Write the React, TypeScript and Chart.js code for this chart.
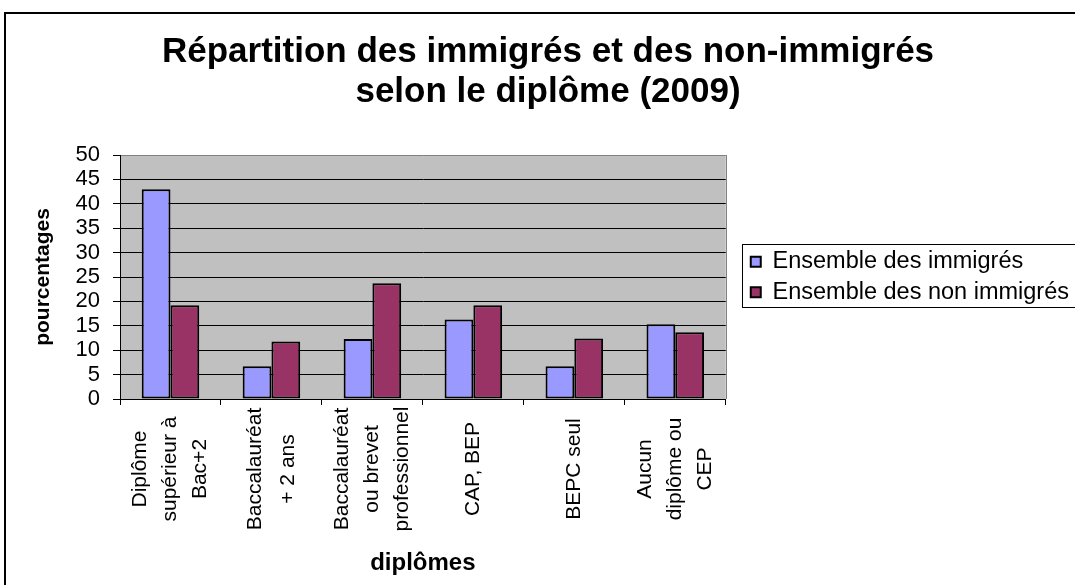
import React, { useEffect, useRef } from 'react';
import { Chart, registerables } from 'chart.js';

Chart.register(...registerables);

// Diploma categories (each entry is one label, split over several lines)
const categories: string[][] = [
  ['Diplôme', 'supérieur à', 'Bac+2'],
  ['Baccalauréat', '+ 2 ans'],
  ['Baccalauréat', 'ou brevet', 'professionnel'],
  ['CAP, BEP'],
  ['BEPC seul'],
  ['Aucun', 'diplôme ou', 'CEP'],
];

// Share of each population by diploma, in percent
const immigres = [43.0, 6.7, 12.3, 16.3, 6.7, 15.3];
const nonImmigres = [19.2, 11.8, 23.7, 19.2, 12.4, 13.7];

const seriesNames = ['Ensemble des immigrés', 'Ensemble des non immigrés'];
const titleLines = ['Répartition des immigrés et des non-immigrés', 'selon le diplôme (2009)'];
const xTitle = 'diplômes';
const yTitle = 'pourcentages';
const yMin = 0;
const yMax = 50;
const yStep = 5;

const FONT = "'Liberation Sans', Arial, Helvetica, sans-serif";
const CANVAS_W = 1096;
const CANVAS_H = 600;
const SIDE_PAD = 17;
const FRAME_X = 5;
const FRAME_Y = 13;

// White page, outer frame, grey plot background and its right edge
const backgroundPlugin = {
  id: 'chartBackground',
  beforeDraw(chart: any) {
    const { ctx, chartArea: a } = chart;
    ctx.save();
    ctx.fillStyle = '#ffffff';
    ctx.fillRect(0, 0, chart.width, chart.height);
    ctx.strokeStyle = '#000000';
    ctx.lineWidth = 2;
    ctx.beginPath();
    ctx.moveTo(FRAME_X, chart.height);
    ctx.lineTo(FRAME_X, FRAME_Y);
    ctx.lineTo(chart.width, FRAME_Y);
    ctx.stroke();
    ctx.fillStyle = '#C0C0C0';
    ctx.fillRect(a.left, a.top, a.right - a.left, a.bottom - a.top);
    ctx.strokeStyle = '#808080';
    ctx.lineWidth = 1;
    ctx.beginPath();
    ctx.moveTo(Math.round(a.right) + 0.5, a.top);
    ctx.lineTo(Math.round(a.right) + 0.5, a.bottom);
    ctx.stroke();
    ctx.restore();
  },
};

// Vertical category labels, each line centred, under the category axis
const categoryLabelsPlugin = {
  id: 'categoryLabels',
  afterDraw(chart: any) {
    const { ctx } = chart;
    const scale = chart.scales.x;
    const labels = chart.data.labels as string[][];
    ctx.save();
    ctx.font = `21px ${FONT}`;
    ctx.fillStyle = '#000000';
    ctx.textAlign = 'center';
    ctx.textBaseline = 'middle';
    labels.forEach((lines, i) => {
      const x = scale.getPixelForTick(i);
      const y = scale.top + 70;
      const step = lines.length === 2 ? 33 : 30;
      ctx.save();
      ctx.translate(x, y);
      ctx.rotate(-Math.PI / 2);
      lines.forEach((t, j) => {
        ctx.fillText(t, 0, (j - (lines.length - 1) / 2) * step);
      });
      ctx.restore();
    });
    ctx.restore();
  },
};

// Box around the legend entries
const legendFramePlugin = {
  id: 'legendFrame',
  afterDraw(chart: any) {
    const lg = chart.legend;
    const hb = lg && lg.legendHitBoxes;
    if (!hb || !hb.length) return;
    const { ctx } = chart;
    const last = hb[hb.length - 1];
    const top = Math.round(hb[0].top - 6) + 0.5;
    const bottom = Math.round(last.top + last.height + 3) + 0.5;
    const left = Math.round(lg.left) - 1.5;
    ctx.save();
    ctx.strokeStyle = '#000000';
    ctx.lineWidth = 1;
    ctx.strokeRect(left, top, 600, bottom - top);
    ctx.restore();
  },
};

export default function App() {
  const canvasRef = useRef<HTMLCanvasElement>(null);

  useEffect(() => {
    if (!canvasRef.current) return;
    const chart = new Chart(canvasRef.current, {
      type: 'bar',
      data: {
        labels: categories,
        datasets: [
          {
            label: seriesNames[0],
            data: immigres,
            backgroundColor: '#9999FF',
            borderColor: '#000000',
            borderWidth: 2,
            borderSkipped: false,
            categoryPercentage: 0.57,
            barPercentage: 1,
          },
          {
            label: seriesNames[1],
            data: nonImmigres,
            backgroundColor: '#993366',
            borderColor: '#000000',
            borderWidth: 2,
            borderSkipped: false,
            categoryPercentage: 0.57,
            barPercentage: 1,
          },
        ],
      },
      options: {
        responsive: false,
        animation: false,
        devicePixelRatio: 1,
        layout: { padding: { top: 0, left: SIDE_PAD, right: SIDE_PAD, bottom: 22 } },
        plugins: {
          title: {
            display: true,
            text: titleLines,
            color: '#000000',
            font: { family: FONT, size: 35, weight: 'bold', lineHeight: '40px' },
            padding: { top: 32, bottom: 43 },
          },
          legend: {
            position: 'right',
            fullSize: false,
            maxWidth: 500,
            labels: {
              color: '#000000',
              font: { family: FONT, size: 23.5 },
              boxWidth: 10,
              boxHeight: 10,
              padding: 7,
            },
          },
          tooltip: { enabled: false },
        },
        scales: {
          x: {
            grid: {
              display: true,
              drawOnChartArea: false,
              drawTicks: true,
              tickLength: 6,
              color: '#000000',
              offset: true,
            },
            border: { display: true, color: '#000000', width: 1 },
            ticks: { display: false },
            title: {
              display: true,
              text: xTitle,
              color: '#000000',
              font: { family: FONT, size: 24, weight: 'bold' },
              padding: 0,
            },
            afterFit(scale: any) {
              scale.height = 179;
            },
          },
          y: {
            min: yMin,
            max: yMax,
            ticks: {
              stepSize: yStep,
              autoSkip: false,
              color: '#000000',
              font: { family: FONT, size: 22, lineHeight: 1 },
              padding: 13,
            },
            grid: {
              color: (c: any) => (c.tick && c.tick.value === yMax ? '#808080' : '#000000'),
              tickColor: '#000000',
              tickLength: 7,
              lineWidth: 1,
            },
            border: { display: true, color: '#000000', width: 1 },
            title: {
              display: true,
              text: yTitle,
              color: '#000000',
              font: { family: FONT, size: 21, weight: 'bold' },
              padding: { top: 31 - SIDE_PAD, bottom: 0 },
            },
            afterFit(scale: any) {
              scale.width = 120 - SIDE_PAD;
            },
          },
          gap: {
            type: 'linear',
            position: 'right',
            display: true,
            grid: { display: false },
            border: { display: false },
            ticks: { display: false },
            afterFit(scale: any) {
              scale.width = 18;
            },
          },
        },
      } as any,
      plugins: [backgroundPlugin, categoryLabelsPlugin, legendFramePlugin],
    });
    return () => chart.destroy();
  }, []);

  return (
    <div
      style={{
        position: 'absolute',
        left: 0,
        top: 0,
        width: 1075,
        height: 585,
        overflow: 'hidden',
        background: '#ffffff',
      }}
    >
      <canvas ref={canvasRef} width={CANVAS_W} height={CANVAS_H} style={{ display: 'block' }} />
    </div>
  );
}
